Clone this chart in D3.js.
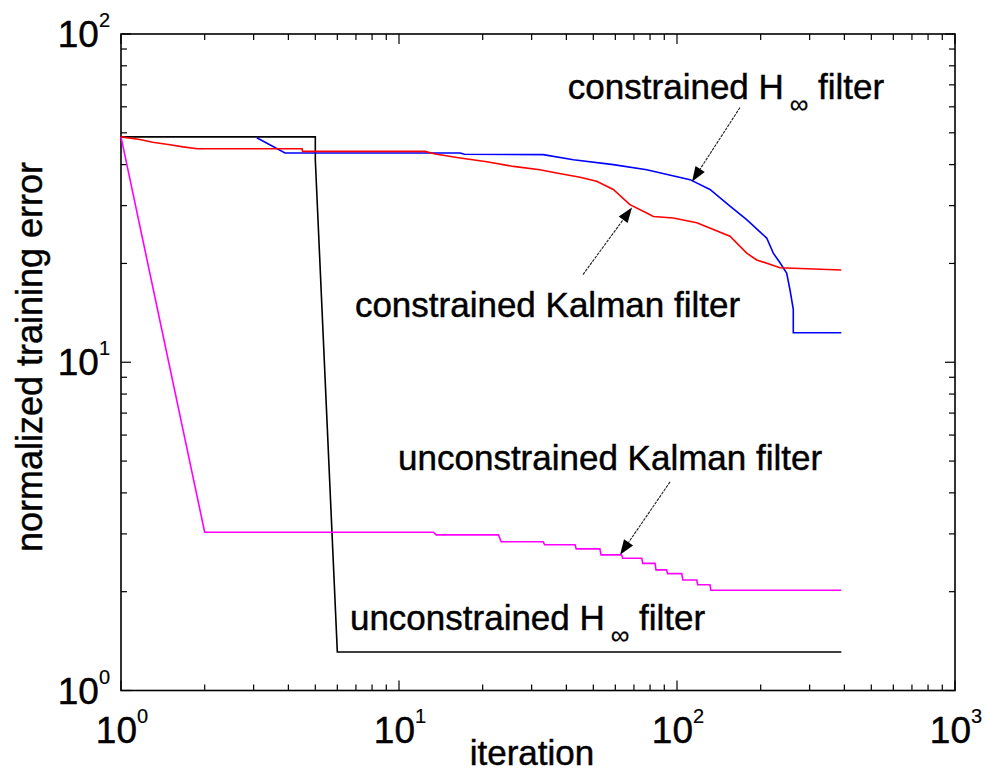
<!DOCTYPE html>
<html>
<head>
<meta charset="utf-8">
<script src="https://cdn.jsdelivr.net/npm/d3@7/dist/d3.min.js"></script>
<style>
  body { margin: 0; background: #fff; }
  svg { display: block; }
  text { font-family: "Liberation Sans", Arial, sans-serif; fill: #000; stroke: #000; stroke-width: 0.45px; }
</style>
</head>
<body>
<svg id="chart" width="985" height="774"></svg>
<script>
// ---------- data ----------
const xDomain = [1, 1000];
const yDomain = [1, 100];
const xTickExps = [0, 1, 2, 3];
const yTickExps = [0, 1, 2];

// constrained Kalman filter (red)
const ckfX = [1, 1.17, 1.30, 1.50, 1.67, 1.88, 4.48, 4.5, 12.4, 13.5, 16.6, 20.7, 25.8, 32.1, 36.9, 44.8, 51.4, 59.0, 67.7, 77.8, 82.2, 97.0, 117.8, 155.1, 178.1, 193.5, 234.7, 390];
const ckfY = [48.6, 47.7, 46.8, 46.0, 45.3, 44.7, 44.7, 43.9, 43.9, 43.1, 41.9, 40.8, 39.5, 38.6, 37.7, 36.6, 35.6, 33.6, 30.2, 28.5, 27.8, 27.5, 26.6, 24.2, 21.5, 20.5, 19.4, 19.1];

// constrained H-infinity filter (blue)
const chX = [3.08, 3.89, 16.6, 17.2, 33.0, 42.4, 59.0, 77.8, 111.4, 131.4, 155.1, 178.1, 210.2, 222.0, 234.7, 248, 255, 262, 262, 390];
const chY = [48.3, 43.4, 43.4, 43.0, 42.9, 41.4, 40.0, 38.6, 36.0, 33.6, 29.9, 27.2, 23.9, 21.5, 20.1, 18.7, 16.6, 14.5, 12.3, 12.3];

// unconstrained Kalman filter (magenta)
const ukfX = [1, 2, 13.3, 13.6, 22.8, 23.3, 33.0, 33.4, 43.0, 43.4, 52.8, 53.3, 63.2, 63.8, 74.7, 75.3, 83.4, 84.0, 91.8, 92.5, 104, 105, 117.8, 118.7, 131.4, 132.4, 390];
const ukfY = [48.6, 3.035, 3.035, 2.98, 2.98, 2.84, 2.84, 2.78, 2.78, 2.70, 2.70, 2.59, 2.59, 2.53, 2.53, 2.44, 2.44, 2.33, 2.33, 2.27, 2.27, 2.17, 2.17, 2.10, 2.10, 2.02, 2.02];

// unconstrained H-infinity filter (black)
const uhX = [1, 5, 5, 6, 390];
const uhY = [48.6, 48.6, 41.4, 1.31, 1.31];

const seriesNames = ["constrained Kalman filter", "constrained H∞ filter", "unconstrained Kalman filter", "unconstrained H∞ filter"];
const seriesColors = ["#ff0000", "#0000ff", "#ff00ff", "#000000"];

// annotation labels (data coordinates of text start / baseline)
const labelPre = ["constrained H", "constrained Kalman filter", "unconstrained Kalman filter", "unconstrained H"];
const labelSub = ["∞", "", "", "∞"];
const labelPost = [" filter", "", "", " filter"];
const labelX = [40.5, 6.94, 9.92, 6.66];
const labelY = [63.6, 13.76, 4.68, 1.53];

// arrows: tail -> tip (data coordinates)
const arrowFromX = [168.5, 45.9, 94.4];
const arrowFromY = [59.7, 18.5, 4.32];
const arrowToX = [113.2, 68.9, 62.4];
const arrowToY = [35.5, 29.6, 2.59];

// ---------- layout ----------
const svg = d3.select("#chart");
const L = 121, R = 955, T = 34, B = 690.5;
const x = d3.scaleLog().domain(xDomain).range([L, R]);
const y = d3.scaleLog().domain(yDomain).range([B, T]);

svg.append("rect").attr("width", 985).attr("height", 774).attr("fill", "#fff");

// minor / major ticks
function tickVals(dom) {
  const out = [];
  for (let e = Math.log10(dom[0]); e < Math.log10(dom[1]); e++) {
    for (let m = 1; m < 10; m++) out.push({v: m * Math.pow(10, e), major: m === 1});
  }
  out.push({v: dom[1], major: true});
  return out;
}
const tk = svg.append("g").attr("stroke", "#000").attr("stroke-width", 1.2);
tickVals(xDomain).forEach(t => {
  const px = x(t.v), len = t.major ? 10 : 6;
  tk.append("line").attr("x1", px).attr("x2", px).attr("y1", B).attr("y2", B - len);
  tk.append("line").attr("x1", px).attr("x2", px).attr("y1", T).attr("y2", T + len);
});
tickVals(yDomain).forEach(t => {
  const py = y(t.v), len = t.major ? 10 : 6;
  tk.append("line").attr("y1", py).attr("y2", py).attr("x1", L).attr("x2", L + len);
  tk.append("line").attr("y1", py).attr("y2", py).attr("x1", R).attr("x2", R - len);
});

// frame
svg.append("rect").attr("x", L).attr("y", T).attr("width", R - L).attr("height", B - T)
  .attr("fill", "none").attr("stroke", "#000").attr("stroke-width", 1.6);

// tick labels
xTickExps.forEach(e => {
  const t = svg.append("text").attr("x", x(Math.pow(10, e)) + 1).attr("y", 743)
    .attr("text-anchor", "middle").style("font-size", "37px");
  t.append("tspan").text("10");
  t.append("tspan").attr("dy", -20).style("font-size", "20px").style("stroke-width", "0.2px").text(String(e));
});
yTickExps.forEach(e => {
  const t = svg.append("text").attr("x", 110).attr("y", y(Math.pow(10, e)) + 13)
    .attr("text-anchor", "end").style("font-size", "37px");
  t.append("tspan").text("10");
  t.append("tspan").attr("dy", -20).style("font-size", "20px").style("stroke-width", "0.2px").text(String(e));
});

// axis labels
svg.append("text").attr("x", 532).attr("y", 765).attr("text-anchor", "middle")
  .style("font-size", "35px").text("iteration");
svg.append("text").attr("transform", "translate(42,357) rotate(-90)").attr("text-anchor", "middle")
  .style("font-size", "36px").text("normalized training error");

// series
const line = d3.line().x(d => x(d[0])).y(d => y(d[1]));
const seriesData = [
  d3.zip(ckfX, ckfY),
  d3.zip(chX, chY),
  d3.zip(ukfX, ukfY),
  d3.zip(uhX, uhY)
];
const drawOrder = [3, 2, 1, 0];
drawOrder.forEach(i => {
  svg.append("path").datum(seriesData[i]).attr("d", line)
    .attr("fill", "none").attr("stroke", seriesColors[i]).attr("stroke-width", 1.6)
    .attr("stroke-linejoin", "miter").append("title").text(seriesNames[i]);
});

// arrows
arrowFromX.forEach((_, i) => {
  const x1 = x(arrowFromX[i]), y1 = y(arrowFromY[i]);
  const x2 = x(arrowToX[i]), y2 = y(arrowToY[i]);
  const ang = Math.atan2(y2 - y1, x2 - x1);
  const hl = 15, hw = 5.5;
  const bx = x2 - hl * Math.cos(ang), by = y2 - hl * Math.sin(ang);
  svg.append("line").attr("x1", x1).attr("y1", y1).attr("x2", bx).attr("y2", by)
    .attr("stroke", "#222").attr("stroke-width", 1.1).attr("stroke-dasharray", "3,1");
  const p = [
    [x2, y2],
    [bx + hw * Math.sin(ang), by - hw * Math.cos(ang)],
    [bx - hw * Math.sin(ang), by + hw * Math.cos(ang)]
  ];
  svg.append("polygon").attr("points", p.map(d => d.join(",")).join(" ")).attr("fill", "#000");
});

// labels
labelPre.forEach((s, i) => {
  const t = svg.append("text").attr("x", x(labelX[i])).attr("y", y(labelY[i]))
    .style("font-size", "35px");
  t.append("tspan").text(s);
  if (labelSub[i]) {
    t.append("tspan").attr("dx", 6).attr("dy", 14).style("font-size", "26px").style("stroke-width", "0.2px").text(labelSub[i]);
    t.append("tspan").attr("dy", -14).style("stroke-width", "0.45px").text(labelPost[i]);
  }
});
</script>
</body>
</html>
